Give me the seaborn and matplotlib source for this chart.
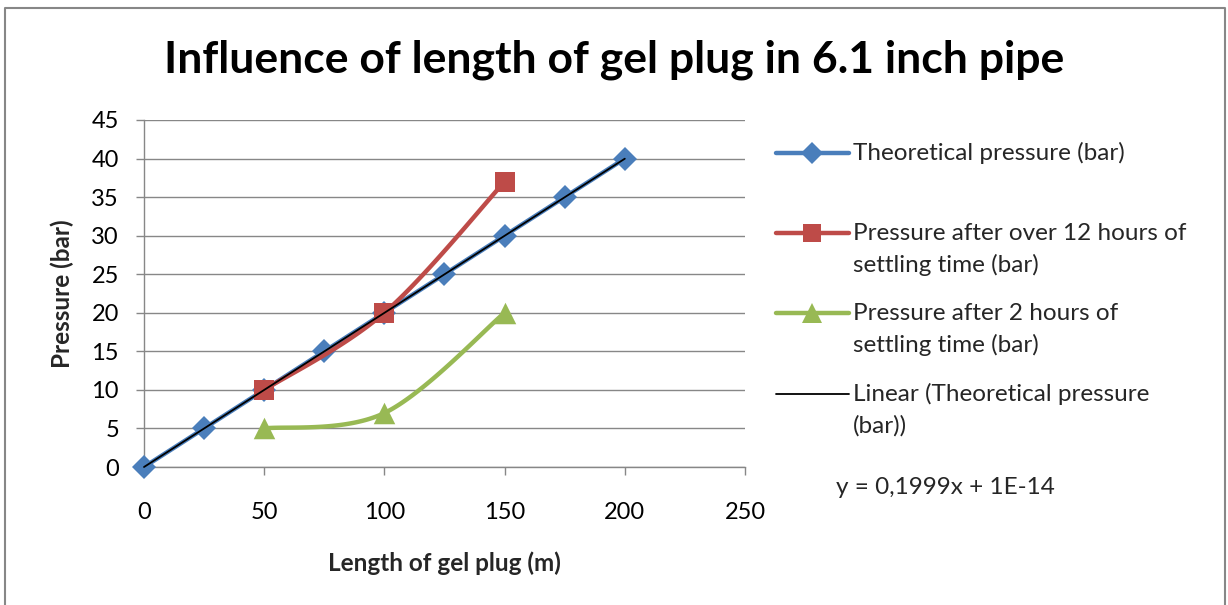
import numpy as np
import pandas as pd
import matplotlib
matplotlib.use("Agg")
import matplotlib.pyplot as plt
from matplotlib.lines import Line2D
import seaborn as sns

# ---------------- data ----------------
length_theory = [0, 25, 50, 75, 100, 125, 150, 175, 200]
pressure_theory = [0, 5, 10, 15, 20, 25, 30, 35, 40]
length_12h = [50, 100, 150]
pressure_12h = [10, 20, 37]
length_2h = [50, 100, 150]
pressure_2h = [5, 7, 20]
trend_slope = 0.1999
trend_intercept = 1e-14

title = "Influence of length of gel plug in 6.1 inch pipe"
x_label = "Length of gel plug (m)"
y_label = "Pressure (bar)"
x_ticks = [0, 50, 100, 150, 200, 250]
y_ticks = [0, 5, 10, 15, 20, 25, 30, 35, 40, 45]
legend_labels = [
    ["Theoretical pressure (bar)"],
    ["Pressure after over 12 hours of", "settling time (bar)"],
    ["Pressure after 2 hours of", "settling time (bar)"],
    ["Linear (Theoretical pressure", "(bar))"],
]
equation_text = "y = 0,1999x + 1E-14"

BLUE = "#4A7EBB"
RED = "#BE4B48"
GREEN = "#98B954"
GRID = "#878787"

sns.set_theme(style="white")
plt.rcParams["font.family"] = ["Lato", "DejaVu Sans"]


def excel_smooth(xs, ys, n=60):
    """Excel-style smoothed line (Catmull-Rom style Bezier between points)."""
    p = np.column_stack([xs, ys]).astype(float)
    pts = np.vstack([p[0], p, p[-1]])
    out = []
    for i in range(1, len(pts) - 2):
        p0, p1, p2, p3 = pts[i - 1], pts[i], pts[i + 1], pts[i + 2]
        c1 = p1 + (p2 - p0) / 6.0
        c2 = p2 - (p3 - p1) / 6.0
        t = np.linspace(0, 1, n)[:, None]
        seg = ((1 - t) ** 3) * p1 + 3 * ((1 - t) ** 2) * t * c1 + 3 * (1 - t) * t ** 2 * c2 + t ** 3 * p2
        out.append(seg if i == 1 else seg[1:])
    seg = np.vstack(out)
    return seg[:, 0], seg[:, 1]


W, H = 1228, 605
fig = plt.figure(figsize=(W / 100, H / 100), dpi=100)
ax = fig.add_axes([144 / W, 1 - 467 / H, (745 - 144) / W, (467 - 120) / H])

LW = 3.2

# theoretical
df_t = pd.DataFrame({"x": length_theory, "y": pressure_theory})
sns.lineplot(data=df_t, x="x", y="y", ax=ax, color=BLUE, lw=LW, marker="D",
             markersize=12, markeredgewidth=0, zorder=3, clip_on=False)

# 12 hours (smoothed)
sx, sy = excel_smooth(length_12h, pressure_12h)
sns.lineplot(x=sx, y=sy, ax=ax, color=RED, lw=LW, sort=False, estimator=None, zorder=4)
sns.scatterplot(x=length_12h, y=pressure_12h, ax=ax, color=RED, marker="s", s=215,
                linewidth=0, zorder=4, clip_on=False)

# 2 hours (smoothed)
gx, gy = excel_smooth(length_2h, pressure_2h)
sns.lineplot(x=gx, y=gy, ax=ax, color=GREEN, lw=LW, sort=False, estimator=None, zorder=5)
sns.scatterplot(x=length_2h, y=pressure_2h, ax=ax, color=GREEN, marker="^", s=240,
                linewidth=0, zorder=5, clip_on=False)

# linear trendline
tx = np.array([min(length_theory), max(length_theory)], dtype=float)
ty = trend_slope * tx + trend_intercept
sns.lineplot(x=tx, y=ty, ax=ax, color="black", lw=1.3, zorder=6, clip_on=False)

ax.set_xlim(0, 250)
ax.set_ylim(0, 45)
ax.set_xticks(x_ticks)
ax.set_yticks(y_ticks)
ax.set_xticklabels([str(v) for v in x_ticks])
ax.set_yticklabels([str(v) for v in y_ticks])
ax.grid(axis="y", color=GRID, lw=1.0)
ax.grid(axis="x", visible=False)
ax.set_axisbelow(True)
for s in ["top", "right"]:
    ax.spines[s].set_visible(False)
for s in ["left", "bottom"]:
    ax.spines[s].set_color(GRID)
    ax.spines[s].set_linewidth(1.0)
ax.tick_params(axis="y", which="major", direction="out", length=6, width=1.0,
               color=GRID, pad=12, labelsize=17, labelcolor="black", left=True)
ax.tick_params(axis="x", which="major", direction="out", length=6, width=1.0,
               color=GRID, pad=19, labelsize=17, labelcolor="black", bottom=True)
ax.set_facecolor("white")

ax.set_xlabel(x_label, fontsize=17.5, fontweight="bold")
ax.set_ylabel(y_label, fontsize=17.5, fontweight="bold")
ax.xaxis.label.set_va("center")
ax.yaxis.label.set_va("center")
ax.xaxis.set_label_coords((444 - 144) / (745 - 144), -(563 - 467) / (467 - 120))
ax.yaxis.set_label_coords(-(144 - 62) / (745 - 144), 0.5)

fig.text(0.5, 1 - 60 / H, title, ha="center", va="center", fontsize=32, fontweight="bold",
         color="black")

# legend (Excel style: handle aligned with first text line)
styles = [
    dict(color=BLUE, lw=LW, marker="D", markersize=11),
    dict(color=RED, lw=LW, marker="s", markersize=13),
    dict(color=GREEN, lw=LW, marker="^", markersize=14),
    dict(color="black", lw=1.3),
]
first_line_y = [153, 233, 313, 394]
line_gap = 32
for lines, st, y0 in zip(legend_labels, styles, first_line_y):
    yf = 1 - y0 / H
    fig.add_artist(Line2D([776 / W, 849 / W], [yf, yf], transform=fig.transFigure,
                          color=st["color"], lw=st["lw"]))
    if "marker" in st:
        fig.add_artist(Line2D([812 / W], [yf], transform=fig.transFigure, color=st["color"],
                              marker=st["marker"], markersize=st["markersize"], lw=0,
                              markeredgewidth=0))
    for k, txt in enumerate(lines):
        fig.text(853 / W, 1 - (y0 + k * line_gap) / H, txt, ha="left", va="center", fontsize=17.5)
fig.text(836 / W, 1 - 488 / H, equation_text, ha="left", va="center", fontsize=17.5)

# chart border
fig.add_artist(Line2D([5 / W, 5 / W, 1225 / W, 1225 / W], [0, 1 - 8 / H, 1 - 8 / H, 0],
                      transform=fig.transFigure, color=GRID, lw=1.5))

fig.savefig("out.png", dpi=100, facecolor="white")
